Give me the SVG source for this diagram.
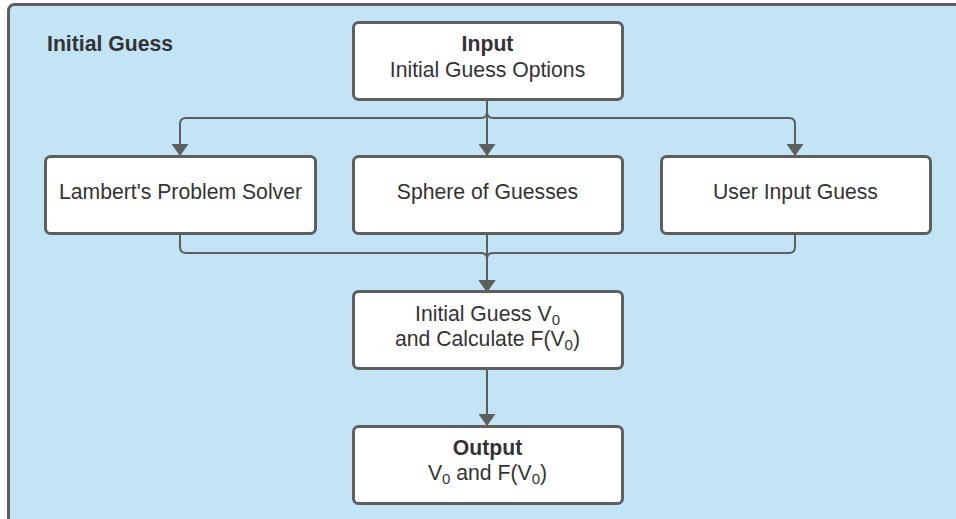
<svg xmlns="http://www.w3.org/2000/svg" width="956" height="519" viewBox="0 0 956 519">
<defs>
<style>
.node{fill:#ffffff;stroke:#5e5e5e;stroke-width:3}
.t{font-family:"Liberation Sans",Arial,sans-serif;font-size:21.2px;fill:#333333;text-anchor:middle}
.b{font-weight:bold}
.sub{font-size:15px}
.conn{fill:none;stroke:#5e5e5e;stroke-width:2}
</style>
<marker id="arr" viewBox="0 0 12 17" markerWidth="12" markerHeight="17" refX="12" refY="8.5" orient="auto" markerUnits="userSpaceOnUse">
<path d="M0,0 L12,8.5 L0,17 Z" fill="#5e5e5e"/>
</marker>
</defs>
<rect x="0" y="0" width="956" height="519" fill="#ffffff"/>
<g id="container">
<rect x="8.5" y="4.5" width="1000" height="600" rx="6" fill="#c3e4f5" stroke="#5e5e5e" stroke-width="3"/>
<text class="t b" x="47" y="51" style="text-anchor:start">Initial Guess</text>
</g>
<g id="connectors">
<path class="conn" d="M487,99 V112 Q487,118 481,118 H186 Q180,118 180,124 V156" marker-end="url(#arr)"/>
<path class="conn" d="M487,99 V112 Q487,118 493,118 H789 Q795,118 795,124 V156" marker-end="url(#arr)"/>
<path class="conn" d="M487,99 V156" marker-end="url(#arr)"/>
<path class="conn" d="M180,234 V247 Q180,253 186,253 H481 Q487,253 487,259 V292" marker-end="url(#arr)"/>
<path class="conn" d="M795,234 V247 Q795,253 789,253 H493 Q487,253 487,259 V292" marker-end="url(#arr)"/>
<path class="conn" d="M487,234 V292" marker-end="url(#arr)"/>
<path class="conn" d="M487,368 V426" marker-end="url(#arr)"/>
</g>
<g id="input">
<rect class="node" x="353.5" y="22.5" width="269" height="77" rx="5"/>
<text class="t b" x="487.5" y="51">Input</text>
<text class="t" x="487.5" y="77">Initial Guess Options</text>
</g>
<g id="lambert">
<rect class="node" x="45.5" y="156.5" width="270" height="77" rx="5"/>
<text class="t" x="180.5" y="199">Lambert's Problem Solver</text>
</g>
<g id="sphere">
<rect class="node" x="353.5" y="156.5" width="269" height="77" rx="5"/>
<text class="t" x="487.5" y="199">Sphere of Guesses</text>
</g>
<g id="user">
<rect class="node" x="661.5" y="156.5" width="269" height="77" rx="5"/>
<text class="t" x="795.5" y="199">User Input Guess</text>
</g>
<g id="calc">
<rect class="node" x="353.5" y="291.5" width="269" height="77" rx="5"/>
<text class="t" x="487.5" y="321">Initial Guess V<tspan class="sub" dy="4">0</tspan></text>
<text class="t" x="487.5" y="346">and Calculate F(V<tspan class="sub" dy="4">0</tspan><tspan dy="-4">)</tspan></text>
</g>
<g id="output">
<rect class="node" x="353.5" y="426.5" width="269" height="77" rx="5"/>
<text class="t b" x="487.5" y="455">Output</text>
<text class="t" x="487.5" y="480">V<tspan class="sub" dy="4">0</tspan><tspan dy="-4"> and F(V</tspan><tspan class="sub" dy="4">0</tspan><tspan dy="-4">)</tspan></text>
</g>
</svg>
